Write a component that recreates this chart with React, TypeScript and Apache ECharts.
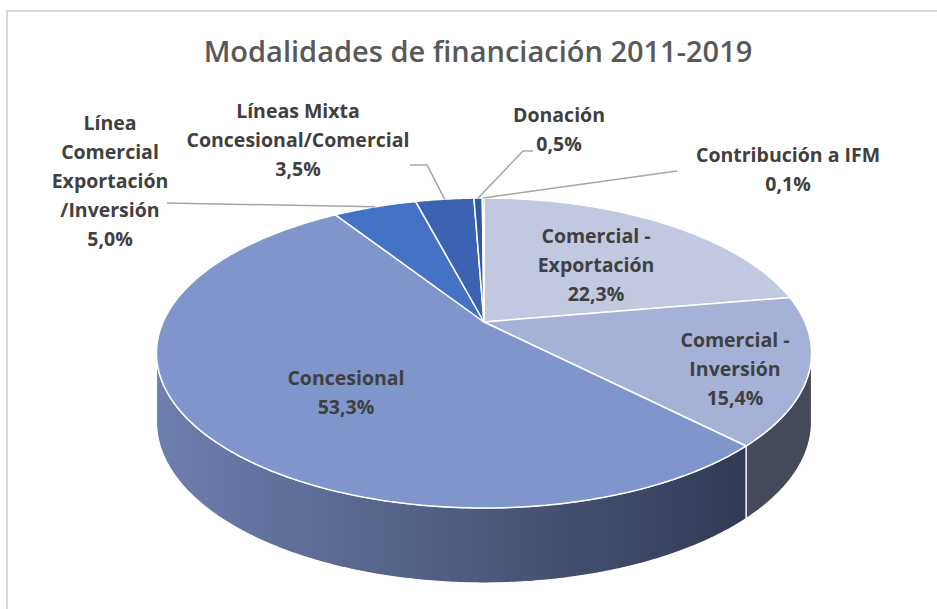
import { useEffect, useRef } from "react";
import * as echarts from "echarts";

const TITLE = "Modalidades de financiación 2011-2019";
const CATEGORIES = [
  "Comercial -\nExportación",
  "Comercial -\nInversión",
  "Concesional",
  "Línea\nComercial\nExportación\n/Inversión",
  "Líneas Mixta\nConcesional/Comercial",
  "Donación",
  "Contribución a IFM",
];
const VALUES = [22.3, 15.4, 53.3, 5.0, 3.5, 0.5, 0.1];

const TOP_COLORS = ["#c1c8e0", "#a5b1d6", "#7f95cb", "#4472c4", "#3c63b1", "#2f58a6", "#24488f"];
const WALL_COLORS: any[] = [
  "#8f97ad",
  "#454a5a",
  new echarts.graphic.LinearGradient(157, 0, 745, 0, [
    { offset: 0, color: "#6e7eae" },
    { offset: 1, color: "#323a55" },
  ], true),
  "#2e4a80",
  "#283f70",
  "#213866",
  "#1c3058",
];

const GEO = { cx: 484, cy: 322, A: 148.8, B: 320.9, k: 0.2, depth: 75, kd: 0.1 };

const LABELS: { x: number; y: number; leader?: number[][] }[] = [
  { x: 596, y: 264 },
  { x: 735, y: 368 },
  { x: 346, y: 392 },
  { x: 110, y: 180, leader: [[167, 203]] },
  { x: 298, y: 139, leader: [[410, 165], [427, 165]] },
  { x: 559, y: 129, leader: [[533, 151], [523, 151]] },
  { x: 788, y: 169, leader: [[677, 171]] },
];

const FONT = '"Open Sans", "Noto Sans", sans-serif';

function proj(r: number, deg: number): number[] {
  const t = (deg * Math.PI) / 180;
  const s = Math.sin(t) * r;
  const c = Math.cos(t) * r;
  const w = 1 + GEO.k * c;
  return [GEO.cx + (GEO.B * s) / w, GEO.cy - (GEO.A * c) / w];
}

function bottom(deg: number): number[] {
  const p = proj(1, deg);
  const c = Math.cos((deg * Math.PI) / 180);
  return [p[0], p[1] + (GEO.depth * (1 - GEO.kd)) / (1 + GEO.kd * c)];
}

function arc(a: number, b: number): number[][] {
  const n = Math.max(2, Math.ceil((b - a) / 0.5));
  const pts: number[][] = [];
  for (let i = 0; i <= n; i++) pts.push(proj(1, a + ((b - a) * i) / n));
  return pts;
}

function fmt(v: number): string {
  return v.toFixed(1).replace(".", ",") + "%";
}

export default function App() {
  const ref = useRef<HTMLDivElement>(null);
  useEffect(() => {
    if (!ref.current) return;
    const chart = echarts.init(ref.current, null, { renderer: "svg" });
    const total = VALUES.reduce((s, v) => s + v, 0);
    const visA = (Math.acos(-GEO.k) * 180) / Math.PI;
    const visB = 360 - visA;

    const renderItem = (params: any, api: any) => {
      const i = params.dataIndex;
      let start = 0;
      for (let j = 0; j < i; j++) start += (VALUES[j] / total) * 360;
      const end = start + (api.value(0) / total) * 360;
      const children: any[] = [];
      const wa = Math.max(start, visA);
      const wb = Math.min(end, visB);
      if (wb > wa) {
        const top = arc(wa, wb);
        const n = top.length - 1;
        const bot: number[][] = [];
        for (let q = n; q >= 0; q--) bot.push(bottom(wa + ((wb - wa) * q) / n));
        children.push({
          type: "polygon",
          shape: { points: top.concat(bot) },
          style: { fill: WALL_COLORS[i], stroke: "#ffffff", lineWidth: 1.2 },
          z2: 1,
        });
      }
      children.push({
        type: "polygon",
        shape: { points: [[GEO.cx, GEO.cy]].concat(arc(start, end)) },
        style: { fill: TOP_COLORS[i], stroke: "#ffffff", lineWidth: 1.5, lineJoin: "round" },
        z2: 2,
      });
      const lab = LABELS[i];
      if (lab.leader) {
        const mid = (start + end) / 2;
        children.push({
          type: "polyline",
          shape: { points: lab.leader.concat([proj(1, mid)]) },
          style: { stroke: "#a6a6a6", lineWidth: 1.5, fill: null },
          z2: 5,
        });
      }
      children.push({
        type: "text",
        style: {
          text: CATEGORIES[i] + "\n" + fmt(VALUES[i]),
          x: lab.x,
          y: lab.y,
          align: "center",
          verticalAlign: "middle",
          fill: "#404040",
          fontFamily: FONT,
          fontWeight: "bold",
          fontSize: 19.5,
          lineHeight: 29,
        },
        z2: 10,
      });
      return { type: "group", children };
    };

    chart.setOption({
      animation: false,
      backgroundColor: "#ffffff",
      graphic: [
        {
          type: "rect",
          shape: { x: 7, y: 11, width: 960, height: 640 },
          style: { fill: "none", stroke: "#d9d9d9", lineWidth: 2 },
          z: -10,
        },
        {
          type: "text",
          style: {
            text: TITLE,
            x: 478,
            y: 50,
            align: "center",
            verticalAlign: "middle",
            fill: "#595959",
            fontFamily: FONT,
            fontWeight: 600,
            fontSize: 29,
          },
        },
      ],
      series: [
        {
          type: "custom",
          coordinateSystem: "none",
          renderItem,
          data: VALUES.map((v, i) => ({ value: [v], name: CATEGORIES[i] })),
        },
      ],
    });
    return () => chart.dispose();
  }, []);
  return <div ref={ref} style={{ position: "fixed", left: 0, top: 0, width: 937, height: 609 }} />;
}
